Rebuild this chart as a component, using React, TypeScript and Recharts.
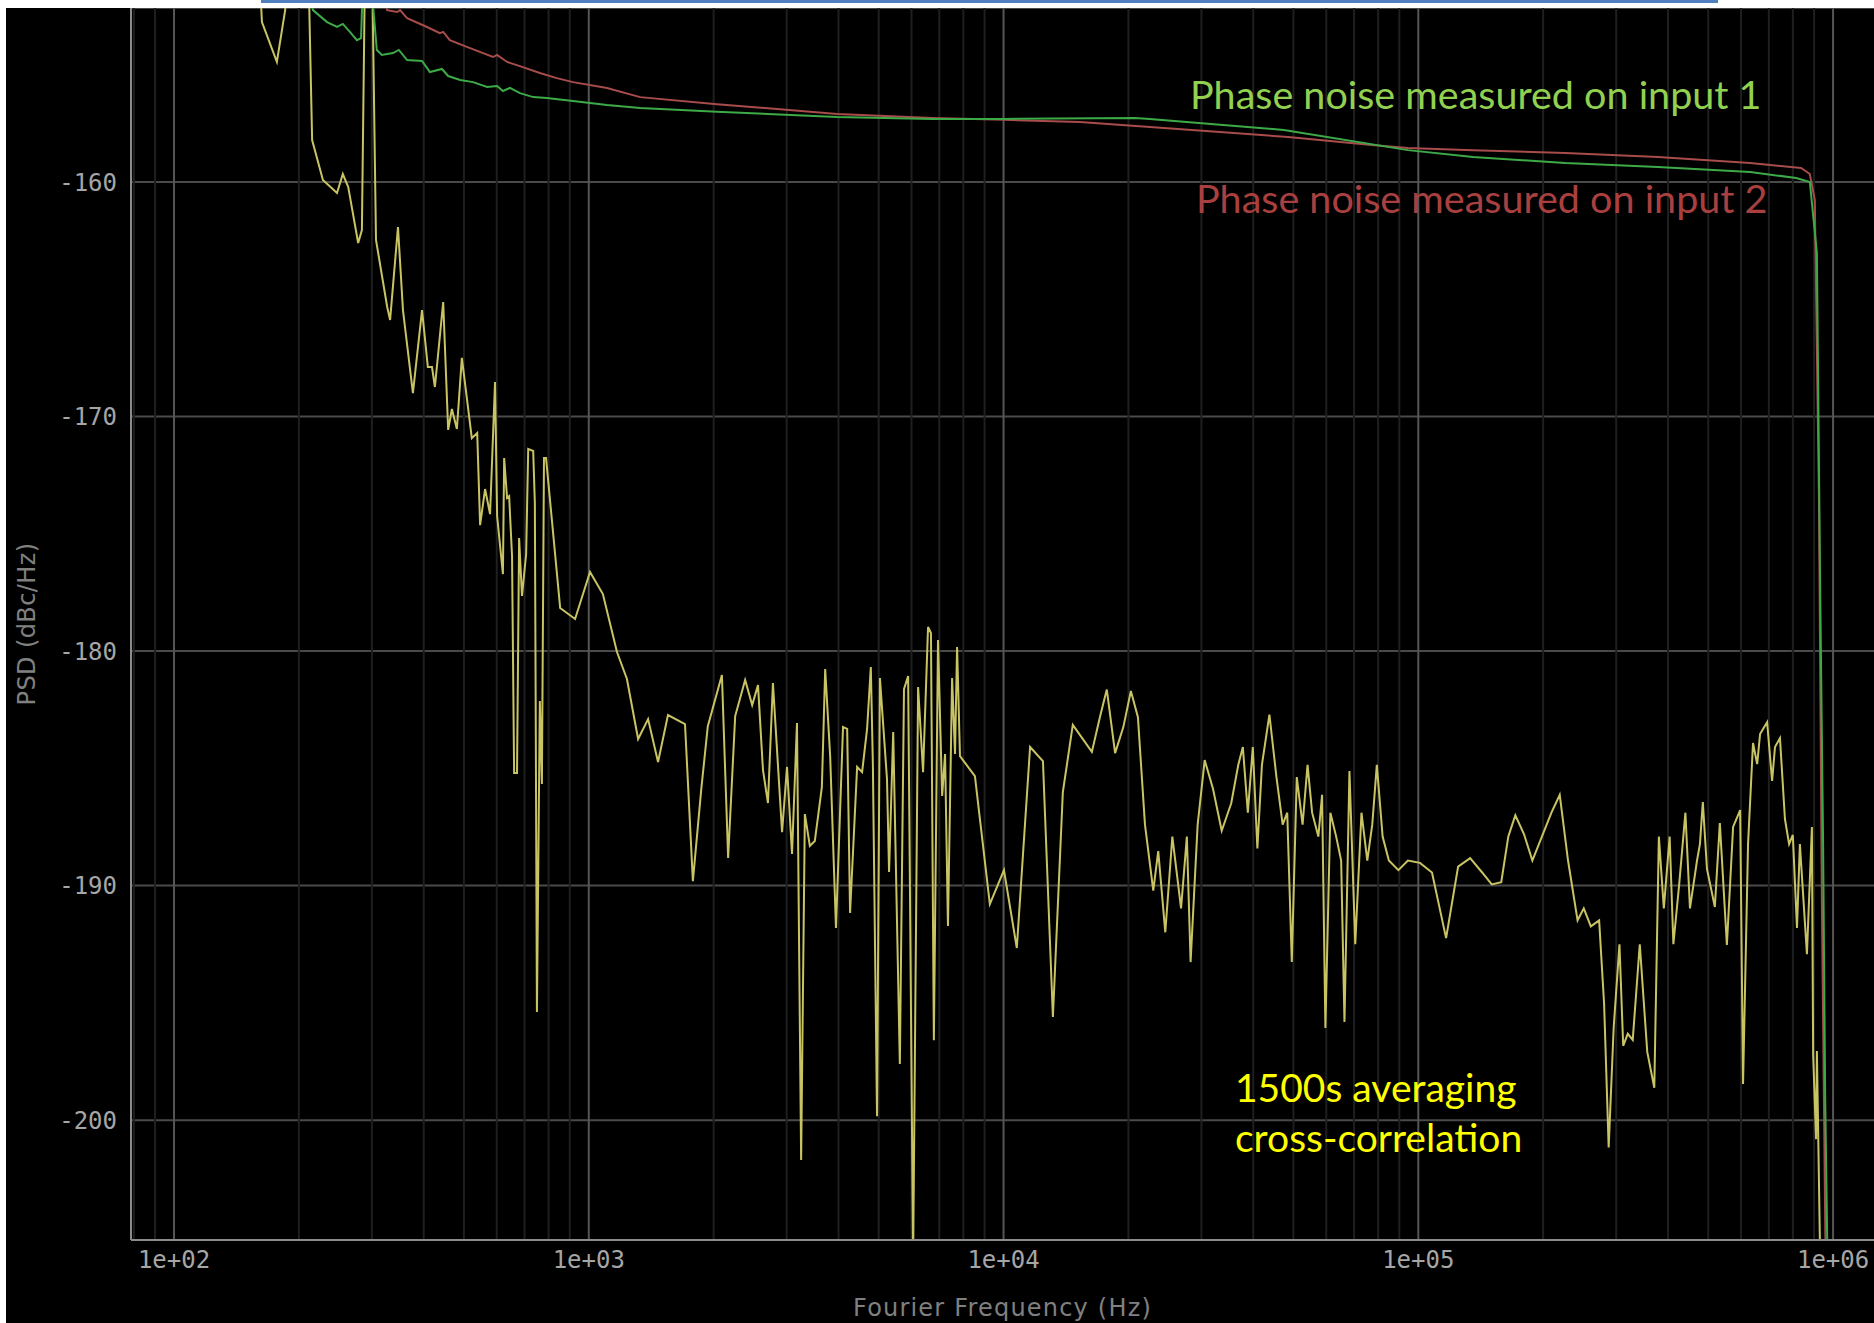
import React from 'react';
import { LineChart, Line, XAxis, YAxis, CartesianGrid, ReferenceLine } from 'recharts';

// x = log10(Fourier frequency / Hz), y = PSD in dBc/Hz
const input1Trace: [number, number][] = [
  [2.31, -150], [2.335, -152.67], [2.369, -153.18], [2.393, -153.39], [2.407, -153.26],
  [2.424, -153.6], [2.441, -153.95], [2.451, -153.86], [2.458, -150], [2.468, -150],
  [2.489, -154.37], [2.501, -154.58], [2.528, -154.5], [2.542, -154.37], [2.562, -154.8],
  [2.598, -154.84], [2.617, -155.31], [2.646, -155.18], [2.661, -155.48], [2.69, -155.65],
  [2.721, -155.74], [2.755, -155.95], [2.779, -155.91], [2.793, -156.12], [2.81, -155.99],
  [2.834, -156.21], [2.866, -156.38], [2.899, -156.42], [2.962, -156.55], [3.044, -156.72],
  [3.124, -156.84], [3.309, -157.0], [3.599, -157.23], [3.828, -157.31], [4.001, -157.31],
  [4.317, -157.27], [4.353, -157.31], [4.676, -157.78], [4.975, -158.64], [5.132, -158.93],
  [5.354, -159.19], [5.578, -159.36], [5.8, -159.57], [5.911, -159.83], [5.944, -160.0],
  [5.961, -163.03], [5.969, -177.44], [5.976, -188.23], [5.981, -199.02], [5.988, -207.7],
];

const input2Trace: [number, number][] = [
  [2.5, -151.5], [2.514, -152.67], [2.538, -152.75], [2.545, -152.67], [2.562, -153.01],
  [2.61, -153.39], [2.641, -153.65], [2.649, -153.6], [2.665, -153.95], [2.706, -154.24],
  [2.769, -154.67], [2.779, -154.58], [2.803, -154.88], [2.841, -155.1], [2.882, -155.35],
  [2.923, -155.57], [2.962, -155.74], [3.044, -155.99], [3.124, -156.38], [3.309, -156.68],
  [3.599, -157.1], [3.828, -157.27], [4.001, -157.35], [4.184, -157.44], [4.353, -157.65],
  [4.686, -158.08], [4.888, -158.42], [4.975, -158.55], [5.132, -158.64], [5.354, -158.76],
  [5.578, -158.93], [5.8, -159.19], [5.923, -159.4], [5.944, -159.66], [5.956, -160.77],
  [5.966, -173.56], [5.973, -190.61], [5.983, -207.7],
];

const crossTrace: [number, number][] = [
  [2.203, -150], [2.212, -153.18], [2.248, -154.88], [2.268, -152.67], [2.275, -150],
  [2.323, -150], [2.333, -158.21], [2.359, -159.91], [2.393, -160.47], [2.407, -159.66],
  [2.42, -160.21], [2.444, -162.6], [2.453, -162.05], [2.461, -150], [2.477, -150],
  [2.487, -162.47], [2.514, -165.33], [2.521, -165.88], [2.54, -161.92], [2.552, -165.46],
  [2.576, -169.0], [2.598, -165.46], [2.612, -167.89], [2.622, -167.89], [2.629, -168.74],
  [2.649, -165.12], [2.661, -170.57], [2.67, -169.68], [2.682, -170.53], [2.694, -167.5],
  [2.718, -170.92], [2.731, -170.7], [2.738, -174.63], [2.75, -173.09], [2.762, -174.16],
  [2.774, -168.53], [2.779, -174.24], [2.793, -176.72], [2.796, -171.77], [2.803, -173.47],
  [2.808, -173.39], [2.815, -175.95], [2.82, -185.2], [2.827, -185.2], [2.832, -175.18],
  [2.839, -177.65], [2.849, -175.86], [2.854, -171.38], [2.866, -171.47], [2.87, -173.69],
  [2.875, -195.39], [2.882, -182.13], [2.887, -185.67], [2.892, -171.77], [2.897, -171.77],
  [2.931, -178.16], [2.967, -178.63], [3.003, -176.63], [3.034, -177.57], [3.068, -180.04],
  [3.092, -181.19], [3.119, -183.75], [3.143, -182.9], [3.167, -184.73], [3.191, -182.73],
  [3.232, -183.11], [3.251, -189.81], [3.271, -185.93], [3.287, -183.2], [3.321, -181.02],
  [3.336, -188.82], [3.353, -182.77], [3.377, -181.23], [3.394, -182.3], [3.408, -181.45],
  [3.42, -185.07], [3.432, -186.48], [3.444, -181.36], [3.466, -187.72], [3.478, -184.94],
  [3.49, -188.65], [3.502, -183.07], [3.512, -201.7], [3.521, -186.95], [3.533, -188.31],
  [3.545, -188.1], [3.562, -185.8], [3.57, -180.77], [3.582, -184.48], [3.596, -191.81],
  [3.613, -183.24], [3.623, -183.32], [3.63, -191.17], [3.647, -184.94], [3.659, -185.16],
  [3.671, -183.32], [3.68, -180.68], [3.685, -184.86], [3.695, -199.83], [3.702, -181.15],
  [3.719, -185.46], [3.724, -189.42], [3.734, -183.45], [3.75, -197.61], [3.76, -181.62],
  [3.77, -181.06], [3.782, -206], [3.794, -181.53], [3.806, -185.16], [3.818, -178.97],
  [3.825, -179.23], [3.832, -196.59], [3.842, -179.53], [3.852, -186.18], [3.859, -184.39],
  [3.866, -191.72], [3.876, -181.15], [3.883, -184.39], [3.888, -179.83], [3.895, -184.48],
  [3.931, -185.33], [3.967, -190.79], [4.001, -189.34], [4.032, -192.66], [4.064, -184.09],
  [4.095, -184.69], [4.119, -195.6], [4.143, -186.01], [4.167, -183.15], [4.213, -184.3],
  [4.233, -182.77], [4.249, -181.64], [4.269, -184.35], [4.289, -183.23], [4.307, -181.7],
  [4.324, -182.82], [4.341, -187.4], [4.361, -190.21], [4.373, -188.53], [4.39, -191.99],
  [4.407, -187.91], [4.428, -190.97], [4.442, -187.91], [4.451, -193.26], [4.468, -187.4],
  [4.485, -184.65], [4.505, -185.87], [4.526, -187.66], [4.549, -186.49], [4.566, -184.85],
  [4.577, -184.09], [4.589, -186.89], [4.601, -184.09], [4.612, -188.42], [4.623, -184.85],
  [4.641, -182.71], [4.658, -185.37], [4.673, -187.4], [4.684, -186.89], [4.695, -193.26],
  [4.707, -185.37], [4.721, -187.4], [4.733, -184.85], [4.744, -186.89], [4.759, -187.91],
  [4.768, -186.13], [4.776, -196.07], [4.788, -186.89], [4.802, -187.91], [4.814, -188.93],
  [4.822, -195.81], [4.834, -185.11], [4.848, -192.5], [4.863, -186.89], [4.877, -188.93],
  [4.889, -187.4], [4.9, -184.85], [4.914, -187.91], [4.929, -188.93], [4.952, -189.34],
  [4.975, -188.93], [5.004, -189.03], [5.033, -189.44], [5.067, -192.24], [5.096, -189.19],
  [5.125, -188.83], [5.154, -189.44], [5.177, -189.95], [5.2, -189.85], [5.217, -187.91],
  [5.234, -187.0], [5.255, -187.81], [5.275, -188.93], [5.298, -187.91], [5.321, -186.89],
  [5.341, -186.13], [5.361, -188.93], [5.384, -191.48], [5.399, -190.97], [5.416, -191.74],
  [5.436, -191.48], [5.448, -195.05], [5.459, -201.16], [5.471, -196.07], [5.485, -192.5],
  [5.494, -196.83], [5.505, -196.32], [5.517, -196.58], [5.534, -192.5], [5.552, -197.09],
  [5.569, -198.62], [5.58, -187.91], [5.592, -190.97], [5.606, -187.91], [5.615, -192.5],
  [5.629, -189.95], [5.644, -186.89], [5.655, -190.97], [5.672, -188.93], [5.679, -188.23],
  [5.686, -186.44], [5.696, -189.29], [5.715, -190.91], [5.727, -187.33], [5.744, -192.53],
  [5.759, -187.5], [5.776, -186.78], [5.783, -198.46], [5.795, -188.23], [5.807, -183.92],
  [5.817, -184.82], [5.824, -183.54], [5.841, -183.03], [5.853, -185.54], [5.86, -184.09],
  [5.872, -183.71], [5.884, -187.16], [5.894, -188.23], [5.903, -187.84], [5.913, -191.81],
  [5.92, -188.23], [5.937, -192.92], [5.949, -187.5], [5.952, -197.22], [5.959, -200.81],
  [5.961, -197.05], [5.969, -206],
];

const decadeTicks = [2, 3, 4, 5, 6];
const dbTicks = [-200, -190, -180, -170, -160];
const gridDecades = [1, 2, 3, 4, 5, 6];
const gridMultipliers = [2, 3, 4, 5, 6, 7, 8, 9];

const X_DOMAIN: [number, number] = [1.8963, 6.0987];
const Y_DOMAIN: [number, number] = [-205.11, -152.58];

const toPoints = (trace: [number, number][]) => trace.map(([f, v]) => ({ f, v }));

const minorGrid = gridDecades
  .flatMap(d => gridMultipliers.map(m => d + Math.log10(m)))
  .filter(v => v > X_DOMAIN[0] && v < X_DOMAIN[1]);

const tickStyle = { fill: '#a6a6a6', fontSize: 24, fontFamily: 'DejaVu Sans Mono' };
const titleStyle = { fill: '#808080', fontSize: 24, fontFamily: 'DejaVu Sans' };

const App: React.FC = () => {
  const input1 = React.useMemo(() => toPoints(input1Trace), []);
  const input2 = React.useMemo(() => toPoints(input2Trace), []);
  const cross = React.useMemo(() => toPoints(crossTrace), []);

  return (
    <div style={{ position: 'absolute', left: 0, top: 0, width: 1874, height: 1323, background: '#fff', overflow: 'hidden' }}>
      <div style={{ position: 'absolute', left: 261, top: 0, width: 1457, height: 3, background: '#4f7fbf' }} />
      <div style={{ position: 'absolute', left: 6, top: 8, width: 1868, height: 1315, background: '#000' }}>
        <LineChart width={1868} height={1315} margin={{ top: 0, right: 0, bottom: 0, left: 0 }}>
          {/* minor decade grid */}
          {minorGrid.map(v => (
            <ReferenceLine key={`m-${v}`} x={v} stroke="#1f1f1f" strokeWidth={2} />
          ))}
          {decadeTicks.map(v => (
            <ReferenceLine key={`M-${v}`} x={v} stroke="#555" strokeWidth={2} />
          ))}
          <CartesianGrid vertical={false} stroke="#4a4a4a" strokeWidth={2} />
          <XAxis
            dataKey="f"
            type="number"
            domain={X_DOMAIN}
            allowDataOverflow
            ticks={decadeTicks}
            interval={0}
            tickFormatter={(v: number) => `1e+0${v}`}
            height={83}
            tickLine={false}
            tickSize={0}
            tickMargin={11}
            axisLine={{ stroke: '#8c8c8c', strokeWidth: 2 }}
            tick={tickStyle}
            label={{ value: 'Fourier Frequency (Hz)', position: 'insideBottom', offset: 7, style: { ...titleStyle, letterSpacing: 1.2 } }}
          />
          <YAxis
            type="number"
            domain={Y_DOMAIN}
            allowDataOverflow
            ticks={dbTicks}
            interval={0}
            width={125}
            tickLine={false}
            tickSize={0}
            tickMargin={14}
            axisLine={{ stroke: '#8c8c8c', strokeWidth: 2 }}
            tick={tickStyle}
            label={{ value: 'PSD (dBc/Hz)', angle: -90, position: 'insideLeft', offset: 20, style: { ...titleStyle, letterSpacing: 0.4, textAnchor: 'middle' } }}
          />
          <Line data={cross} dataKey="v" type="linear" stroke="#c9c463" strokeWidth={2} dot={false} isAnimationActive={false} />
          <Line data={input2} dataKey="v" type="linear" stroke="#a84c4c" strokeWidth={2} dot={false} isAnimationActive={false} />
          <Line data={input1} dataKey="v" type="linear" stroke="#3daa48" strokeWidth={2} dot={false} isAnimationActive={false} />
        </LineChart>
      </div>
      <svg width={1874} height={1323} style={{ position: 'absolute', left: 0, top: 0, pointerEvents: 'none' }}>
        <g fontFamily="Lato">
          <text x={1190} y={109} fontSize={39.5} fill="#92d050">Phase noise measured on input 1</text>
          <text x={1196} y={213} fontSize={39.5} fill="#a9403f">Phase noise measured on input 2</text>
          <text x={1235} y={1102} fontSize={39} fill="#ffff00">1500s averaging</text>
          <text x={1235} y={1152} fontSize={39} fill="#ffff00">cross-correlation</text>
        </g>
      </svg>
    </div>
  );
};

export default App;
